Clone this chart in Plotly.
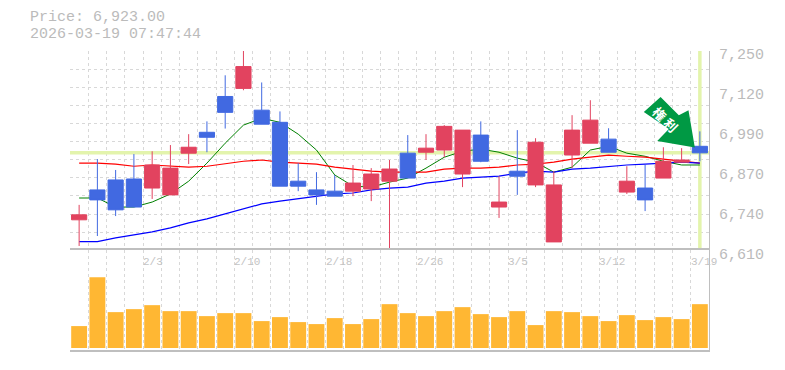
import plotly.graph_objects as go

DATES = ["1/28","1/29","1/30","2/2","2/3","2/4","2/5","2/6","2/9","2/10","2/12","2/13","2/16","2/17","2/18",
         "2/19","2/20","2/24","2/25","2/26","2/27","3/2","3/3","3/4","3/5","3/6","3/9","3/10","3/11","3/12",
         "3/13","3/16","3/17","3/18","3/19"]
OPEN = [6708,6804,6836,6839,6810,6788,6922,6989,7104,7130,7060,7021,6832,6804,6800,
        6800,6807,6832,6922,6925,6932,6855,6980,6749,6864,6820,6637,6916,6954,6967,
        6797,6810,6842,6893,6944]
HIGH = [6756,6903,6868,6919,6928,6948,6983,7024,7172,7250,7149,7056,6890,6861,6852,
        6884,6874,6900,6980,6983,7012,6996,7024,6848,6996,6970,6864,7044,7092,7002,
        6880,6884,6941,6938,6992]
LOW = [6624,6656,6720,6749,6775,6788,6887,6925,7001,7124,7015,6816,6800,6756,6784,
       6784,6768,6612,6842,6900,6909,6813,6893,6714,6788,6813,6637,6874,6954,6925,
       6791,6736,6842,6893,6896]
CLOSE = [6724,6772,6740,6749,6884,6874,6941,6973,7053,7200,7015,6816,6816,6788,6784,
         6826,6855,6871,6842,6938,7008,6996,6896,6765,6848,6957,6820,6996,7028,6925,
         6832,6772,6896,6900,6923]
MA_SHORT = [6778,6778,6749,6749,6765,6791,6832,6890,6954,7012,7034,7021,6983,6932,6852,
            6816,6813,6829,6842,6874,6909,6928,6935,6925,6906,6893,6861,6877,6932,6944,
            6922,6912,6896,6884,6884]
MA_MID = [6890,6890,6887,6880,6884,6880,6877,6880,6887,6896,6900,6893,6890,6887,6877,
          6871,6864,6861,6861,6861,6871,6874,6874,6877,6884,6887,6893,6903,6909,6916,
          6912,6909,6903,6896,6890]
MA_LONG = [6638,6638,6650,6660,6669,6682,6698,6711,6727,6743,6759,6768,6775,6784,6791,
           6794,6804,6810,6813,6826,6832,6842,6845,6848,6858,6864,6861,6871,6874,6880,
           6884,6887,6890,6893,6890]
VOLUME = [22,71,36,39,43,37,37,32,35,35,27,31,26,24,30,24,29,44,
          35,32,37,41,34,31,37,23,37,36,32,27,33,28,31,29,44]
PRICE_TICKS = [7250,7122,6994,6866,6738,6610]
PRICE_LABELS = ["7,250","7,120","6,990","6,870","6,740","6,610"]
LAST_PRICE = 6923
TITLE_1 = "Price: 6,923.00"
TITLE_2 = "2026-03-19 07:47:44"
BADGE = "<b>権 利</b>"
LABEL_EVERY = 5

W, H = 785, 370
L, R, T, B = 70, 75.5, 50.5, 19.5
PW, PH = W - L - R, H - T - B
px = lambda x: (x - L) / PW
py = lambda y: (T + PH - y) / PH
xr = [-0.5, len(DATES) - 0.5]
yr = [6610, 7250]
GRID = "#D8D8D8"
AXIS = "#BFBFBF"
MONO = "Liberation Mono"
idx = list(range(len(DATES)))

fig = go.Figure()
for vals, col, w in [(MA_SHORT, "#008000", 1), (MA_MID, "#FF0000", 1.2), (MA_LONG, "#0000FF", 1.2)]:
    fig.add_trace(go.Scatter(x=idx, y=vals, mode="lines", line=dict(color=col, width=w), hoverinfo="skip"))
fig.add_trace(go.Candlestick(
    x=idx, open=OPEN, high=HIGH, low=LOW, close=CLOSE, xaxis="x3", yaxis="y3",
    increasing=dict(line=dict(color="#E2435F", width=1), fillcolor="#E2435F"),
    decreasing=dict(line=dict(color="#4169E1", width=1), fillcolor="#4169E1"),
    whiskerwidth=0))
fig.add_trace(go.Bar(x=idx, y=VOLUME, xaxis="x2", yaxis="y2", marker=dict(color="#FFB733", line=dict(width=0)), width=0.87))

common_x = dict(range=xr, tick0=-0.5, dtick=1, showticklabels=False, ticks="", showgrid=True,
                gridcolor=GRID, griddash="3px,3px", gridwidth=1, zeroline=False)
shapes = [
    dict(type="line", xref="x", yref="y", layer="between", x0=xr[0], x1=xr[1], y0=LAST_PRICE, y1=LAST_PRICE,
         line=dict(color="#E3F4AC", width=3.5)),
    dict(type="line", xref="x", yref="y", layer="between", x0=idx[-1], x1=idx[-1], y0=yr[0] + 6, y1=yr[1],
         line=dict(color="#E3F4AC", width=3.5)),
]
arrow = [(644.3,111.7),(661,96.7),(679.3,115),(689,110),(695.3,147.3),(657.7,140.7),(669.3,128.7)]
shapes.append(dict(type="path", xref="paper", yref="paper", layer="above",
                   path="M" + " L".join(f"{px(a):.4f},{py(b):.4f}" for a, b in arrow) + " Z",
                   fillcolor="#009944", line=dict(width=0)))

ann = []
for i in range(4, len(DATES), LABEL_EVERY):
    ann.append(dict(x=i - 0.5, y=py(262), xref="x", yref="paper", text=DATES[i], showarrow=False,
                    xanchor="left", yanchor="middle", xshift=-2, font=dict(family=MONO, size=11, color="#C4C4C4")))
for txt, yy in [(TITLE_1, 17.3), (TITLE_2, 34.3)]:
    ann.append(dict(x=px(30), y=py(yy), xref="paper", yref="paper", text=txt, showarrow=False,
                    xanchor="left", yanchor="middle", xshift=-2, font=dict(family=MONO, size=15, color="#BBBBBB")))
ann.append(dict(x=px(666), y=py(119), xref="paper", yref="paper", text=BADGE, showarrow=False, textangle=45,
                xanchor="center", yanchor="middle",
                font=dict(family="Noto Sans CJK JP", size=13, color="#FFFFFF")))

fig.update_layout(
    width=W, height=H, autosize=False, margin=dict(l=L, r=R, t=T, b=B, pad=0, autoexpand=False),
    paper_bgcolor="#FFFFFF", plot_bgcolor="#FFFFFF", showlegend=False, boxgap=0.17, boxgroupgap=0,
    shapes=shapes, annotations=ann,
    xaxis=dict(domain=[0, 1], anchor="y", **common_x),
    xaxis2=dict(domain=[0, 1], anchor="y2", showline=True, mirror=True, linecolor=AXIS, linewidth=2, **common_x),
    xaxis3=dict(range=xr, overlaying="x", anchor="y3", visible=False, rangeslider=dict(visible=False)),
    yaxis=dict(domain=[1/3, 1], range=yr, anchor="x", side="right", tick0=6610, dtick=640/11, showticklabels=False, ticks="",
               showgrid=True, gridcolor=GRID, griddash="3px,3px", zeroline=False, showline=True, linecolor=AXIS, linewidth=1),
    yaxis2=dict(domain=[0, 1/3], range=[-2, 98], anchor="x2", side="right", showgrid=False, zeroline=False,
                showticklabels=False, ticks="", showline=True, linecolor=AXIS, linewidth=1),
    yaxis3=dict(domain=[1/3, 1], range=yr, overlaying="y", anchor="x3", side="right", showgrid=False, zeroline=False,
                tickmode="array", tickvals=PRICE_TICKS, ticktext=PRICE_LABELS, ticks="", ticklabelstandoff=9, ticklabelshift=3,
                tickfont=dict(family=MONO, size=15, color="#BBBBBB")),
)
fig.write_html("out.html", config=dict(displayModeBar=False),
               post_script="document.body.style.margin='0';document.documentElement.style.overflow='hidden';")
